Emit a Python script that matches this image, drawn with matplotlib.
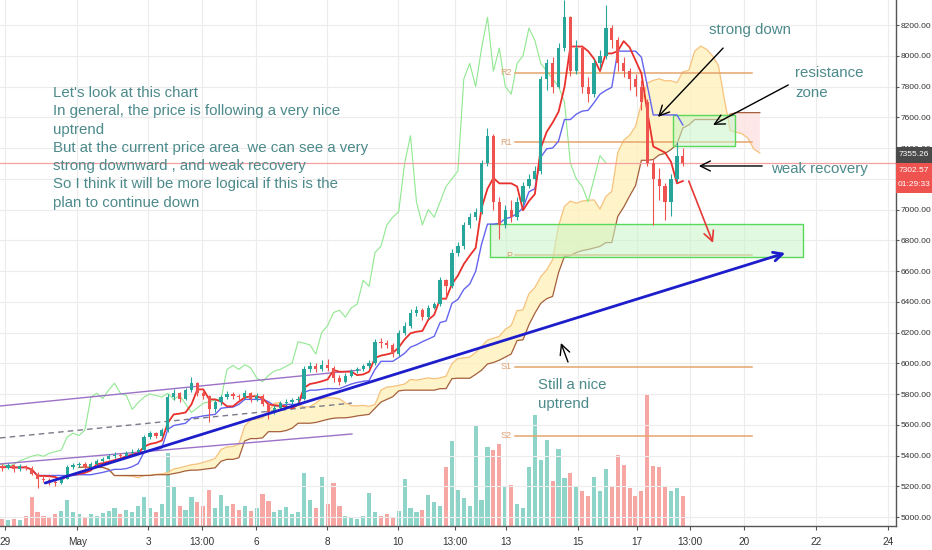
import numpy as np
import pandas as pd
import matplotlib
matplotlib.use("Agg")
import matplotlib.pyplot as plt
from matplotlib.patches import Rectangle

# ---------------- data (4h candles, BTCUSD-like) ----------------
open0 = 5330
closes = [5320, 5335, 5310, 5330, 5320, 5280, 5245, 5240, 5225, 5220,
          5250, 5325, 5335, 5345, 5325, 5345, 5365, 5380, 5395, 5405,
          5395, 5415, 5425, 5435, 5520, 5545, 5530, 5565, 5780, 5805,
          5770, 5825, 5870, 5805, 5790, 5700, 5745, 5780, 5800, 5790,
          5780, 5805, 5765, 5790, 5735, 5680, 5710, 5740, 5750, 5760,
          5770, 5960, 5985, 5960, 5990, 5970, 5905, 5880, 5920, 5950,
          5960, 5980, 6000, 6140, 6130, 6120, 6060, 6200, 6245, 6330,
          6345, 6300, 6360, 6385, 6540, 6500, 6720, 6760, 6900, 6950,
          6985, 7300, 7480, 7050, 6900, 7000, 6950, 7050, 7150, 7200,
          7250, 7850, 7950, 7800, 8050, 8250, 7900, 8050, 7800, 7750,
          7950, 8000, 8180, 8100, 7950, 7900, 7850, 7800, 7700, 7300,
          7200, 7150, 7050, 7200, 7350, 7302.57]
highs = [5345, 5350, 5345, 5345, 5340, 5330, 5290, 5265, 5255, 5245,
         5265, 5340, 5350, 5360, 5355, 5360, 5375, 5390, 5410, 5420,
         5415, 5430, 5440, 5450, 5535, 5560, 5555, 5580, 5800, 5830,
         5815, 5840, 5910, 5880, 5820, 5795, 5760, 5795, 5820, 5815,
         5800, 5825, 5815, 5805, 5800, 5745, 5730, 5755, 5770, 5775,
         5790, 5980, 6010, 6000, 6020, 6030, 5985, 5925, 5935, 5965,
         5975, 5995, 6020, 6160, 6165, 6150, 6130, 6215, 6270, 6350,
         6370, 6360, 6380, 6400, 6560, 6550, 6740, 6790, 6920, 6980,
         7010, 7320, 7530, 7490, 7080, 7030, 7060, 7080, 7180, 7230,
         7280, 7870, 7980, 7990, 8080, 8360, 8260, 8100, 8070, 7860,
         7980, 8040, 8330, 8200, 8120, 7990, 7920, 7880, 7840, 7720,
         7330, 7270, 7170, 7230, 7440, 7400]
lows = [5300, 5310, 5295, 5300, 5305, 5270, 5190, 5225, 5210, 5200,
        5215, 5245, 5315, 5325, 5310, 5320, 5340, 5360, 5375, 5385,
        5380, 5390, 5405, 5415, 5425, 5505, 5515, 5520, 5555, 5760,
        5750, 5760, 5815, 5790, 5770, 5620, 5680, 5730, 5765, 5770,
        5760, 5770, 5745, 5755, 5720, 5640, 5670, 5700, 5720, 5735,
        5745, 5760, 5940, 5945, 5950, 5950, 5880, 5860, 5870, 5910,
        5935, 5950, 5970, 5990, 6100, 6100, 6040, 6050, 6185, 6230,
        6310, 6280, 6290, 6350, 6370, 6420, 6490, 6700, 6740, 6880,
        6930, 6970, 7280, 7000, 6810, 6880, 6920, 6930, 7030, 7140,
        7190, 7230, 7780, 7760, 7790, 8030, 7870, 7880, 7760, 7700,
        7730, 7920, 7980, 8050, 7900, 7860, 7780, 7740, 7650, 7280,
        6900, 7060, 6930, 6960, 7180, 7280]
volumes = [7, 6, 7, 6, 10, 29, 14, 10, 8, 12,
           15, 26, 14, 12, 9, 12, 10, 13, 15, 18,
           12, 16, 14, 20, 29, 18, 14, 22, 73, 39,
           20, 16, 29, 24, 20, 36, 18, 31, 20, 22,
           16, 20, 15, 18, 32, 25, 14, 16, 19, 12,
           14, 53, 26, 18, 49, 22, 43, 20, 10, 8,
           7, 10, 33, 14, 10, 12, 9, 15, 47, 18,
           14, 16, 31, 24, 20, 59, 85, 36, 28, 20,
           100, 26, 79, 76, 82, 39, 41, 22, 18, 59,
           111, 66, 86, 45, 77, 48, 53, 40, 35, 30,
           49, 35, 57, 40, 71, 61, 38, 30, 35, 131,
           60, 59, 40, 35, 38, 30]

marker_price = 7355.26
timer_text = "01:29:33"

ytick_values = list(range(5000, 8201, 200))
hidden_ytick = 7200          # covered by the price boxes in the reference
xtick_labels = ['29', 'May', '3', '13:00', '6', '8', '10', '13:00',
                '13', '15', '17', '13:00', '20', '22', '24']
xtick_pos = [0.5, 12.7, 24.7, 33.8, 42.9, 54.9, 66.9, 76.5,
             85.1, 97.3, 107.3, 116.2, 125.3, 137.5, 149.7]

pivot_names = ['R2', 'R1', 'P', 'S1', 'S2']
pivot_levels = [7888, 7439, 6704, 5976, 5527]
pivot_span = [86.7, 126.7]

# drawings (bar index, price)
trend_blue = [(7.3, 5221), (132.3, 6717)]
channel_upper = [(-0.34, 5722), (60.5, 5956)]
channel_lower = [(-0.34, 5345), (59.1, 5540)]
dashed_line = [(-0.34, 5514), (59.1, 5741)]
zone_big = [(82.4, 6691), (135.3, 6906)]
zone_small = [(113.3, 7413), (123.8, 7615)]

left_lines = ["Let's look at this chart",
              "In general, the price is following a very nice",
              "uptrend",
              "But at the current price area  we can see a very",
              "strong downward , and weak recovery",
              "So I think it will be more logical if this is the",
              "plan to continue down"]

# ---------------- indicators ----------------
c = pd.Series(closes, dtype=float)
h = pd.Series(highs, dtype=float)
l = pd.Series(lows, dtype=float)
o = c.shift(1).fillna(open0)
n = len(c)
idx = np.arange(n)

tenkan = (h.rolling(5, min_periods=1).max() + l.rolling(5, min_periods=1).min()) / 2
kijun = (h.rolling(13, min_periods=1).max() + l.rolling(13, min_periods=1).min()) / 2
spanA = (tenkan + kijun) / 2
spanB = (h.rolling(26, min_periods=1).max() + l.rolling(26, min_periods=1).min()) / 2
disp = 13

# ---------------- figure ----------------
W, H = 932, 550
fig = plt.figure(figsize=(W / 100, H / 100), dpi=100)
fig.patch.set_facecolor('white')
ax = fig.add_axes([0, 24 / H, 896 / W, 526 / H])
ax.set_xlim(-0.34, 151.0)
ax.set_ylim(4941.5, 8362.6)

fam = ['Liberation Sans', 'DejaVu Sans']
teal_txt = '#4d8a8b'

# volume on twin axis, behind
vax = ax.twinx()
vax.set_zorder(ax.get_zorder() - 1)
ax.patch.set_visible(False)
vax.set_ylim(0, max(volumes) * 526 / 131)
vcol = ['#8fd4c9' if cc >= oo else '#f6a6a3' for cc, oo in zip(c, o)]
vax.bar(idx, volumes, width=0.7, color=vcol, linewidth=0)
vax.set_yticks([])
for s in vax.spines.values():
    s.set_visible(False)

# grid / ticks
ax.set_yticks(ytick_values)
ax.set_xticks(xtick_pos)
ax.set_xticklabels(xtick_labels)
ax.grid(True, color='#ececec', lw=0.8, zorder=0)
ax.set_axisbelow(True)

# cloud
xc = idx + disp
ax.fill_between(xc, spanA, spanB, where=spanA >= spanB, interpolate=True,
                color='#fff1b8', alpha=0.75, lw=0, zorder=1)
ax.fill_between(xc, spanA, spanB, where=spanA < spanB, interpolate=True,
                color='#fde2e2', alpha=0.8, lw=0, zorder=1)
ax.plot(xc, spanA, color='#f6c27e', lw=0.9, zorder=2)
ax.plot(xc, spanB, color='#a5603a', lw=0.9, zorder=2)

# chikou
ax.plot(idx - disp, c, color='#90e890', lw=0.8, zorder=2)

# pivots
for name, lev in zip(pivot_names, pivot_levels):
    ax.plot(pivot_span, [lev, lev], color='#e6a46c', lw=1.1, zorder=2)
    ax.text(pivot_span[0] - 0.6, lev, name, color='#e0a070', fontsize=6.5,
            ha='right', va='center', family=fam, zorder=3)

# current price line
ax.axhline(c.iloc[-1], color='#f4a0a0', lw=0.9, zorder=2)

# zones
for (x0, y0), (x1, y1) in [zone_big, zone_small]:
    ax.add_patch(Rectangle((x0, y0), x1 - x0, y1 - y0, facecolor='#c8f5c8',
                           alpha=0.55, edgecolor='none', zorder=2))
    ax.add_patch(Rectangle((x0, y0), x1 - x0, y1 - y0, facecolor='none',
                           edgecolor='#5ad85a', lw=1.0, zorder=3))

# channel & dashed
ax.plot(*zip(*channel_upper), color='#9b72c8', lw=1.0, zorder=3)
ax.plot(*zip(*channel_lower), color='#9b72c8', lw=1.0, zorder=3)
ax.plot(*zip(*dashed_line), color='#7a7a8a', lw=1.0, ls=(0, (4, 3)), zorder=3)

# tenkan / kijun
ax.plot(idx, kijun, color='#6464ee', lw=1.0, zorder=4)
ax.plot(idx, tenkan, color='#e8302c', lw=1.3, zorder=4)

# candles
up = c >= o
colors = np.where(up, '#26a69a', '#ef5350')
ax.vlines(idx, l, h, colors=colors, lw=0.8, zorder=5)
body_lo = np.minimum(o, c)
body_h = np.maximum(np.abs(c - o), 6)
ax.bar(idx, body_h, bottom=body_lo, width=0.55, color=colors, lw=0, zorder=6)

# blue trend line with arrow
ax.annotate('', xy=trend_blue[1], xytext=trend_blue[0],
            arrowprops=dict(arrowstyle='->', color='#1d1dcc', lw=2.0,
                            mutation_scale=16, shrinkA=0, shrinkB=0), zorder=7)

# annotation arrows
def arrow(p0, p1, color='black', lw=1.0):
    ax.annotate('', xy=p1, xytext=p0,
                arrowprops=dict(arrowstyle='->', color=color, lw=lw,
                                mutation_scale=18, shrinkA=0, shrinkB=0), zorder=8)

arrow((121.8, 8050), (110.8, 7602))
arrow((132.8, 7810), (120.1, 7550))
arrow((128.4, 7283), (117.7, 7283))
arrow((116.0, 7185), (120.1, 6782), color='#e53935', lw=1.2)
arrow((95.6, 6008), (94.4, 6132))

# texts
fs = 10.8
base0 = 7732
step = 119
for k, line in enumerate(left_lines):
    ax.text(8.6, base0 - k * step, line, color=teal_txt, fontsize=fs,
            family=fam, ha='left', va='baseline', zorder=9)
for x, y, s in [(119.4, 8167, "strong down"), (134.0, 7888, "resistance"),
                (134.0, 7758, "zone"), (129.9, 7263, "weak recovery"),
                (90.5, 5859, "Still a nice"), (90.5, 5735, "uptrend")]:
    ax.text(x, y, s, color=teal_txt, fontsize=fs, family=fam,
            ha='left', va='center', zorder=9)

# axes styling
ax.yaxis.tick_right()
ax.yaxis.set_major_formatter(matplotlib.ticker.FormatStrFormatter('%.2f'))
for t in ax.get_yticklabels() + ax.get_xticklabels():
    t.set_family(fam)
ax.tick_params(axis='y', length=2, color='#555555', labelsize=6.0,
               labelcolor='#333333', pad=1.5)
ax.tick_params(axis='x', length=3, color='#555555', labelsize=7.2,
               labelcolor='#333333', pad=5)
for val, t in zip(ytick_values, ax.get_yticklabels()):
    if val == hidden_ytick:
        t.set_visible(False)
for s in ['left', 'top']:
    ax.spines[s].set_visible(False)
for s in ['right', 'bottom']:
    ax.spines[s].set_color('#555555')
    ax.spines[s].set_linewidth(1.0)

# right-axis price boxes
def y_px(price):
    return ax.transData.transform((0, price))[1]

ym = y_px(marker_price)
x0f = 896 / W
wf = 36 / W
fig.add_artist(Rectangle((x0f, (ym - 8) / H), wf, 16 / H, transform=fig.transFigure,
                         facecolor='#4a4a4a', edgecolor='none', zorder=20))
fig.text(x0f + wf / 2, ym / H, f"{marker_price:.2f}", color='white', fontsize=6.0,
         family=fam, ha='center', va='center', zorder=21)
top_r = ym - 8
fig.add_artist(Rectangle((x0f, (top_r - 30) / H), wf, 30 / H, transform=fig.transFigure,
                         facecolor='#ef5350', edgecolor='none', zorder=20))
fig.text(x0f + wf / 2, (top_r - 8) / H, f"{closes[-1]:.2f}", color='white', fontsize=6.0,
         family=fam, ha='center', va='center', zorder=21)
fig.text(x0f + wf / 2, (top_r - 22) / H, timer_text, color='white', fontsize=6.0,
         family=fam, ha='center', va='center', zorder=21)

fig.savefig('out.png', dpi=100, facecolor='white')
